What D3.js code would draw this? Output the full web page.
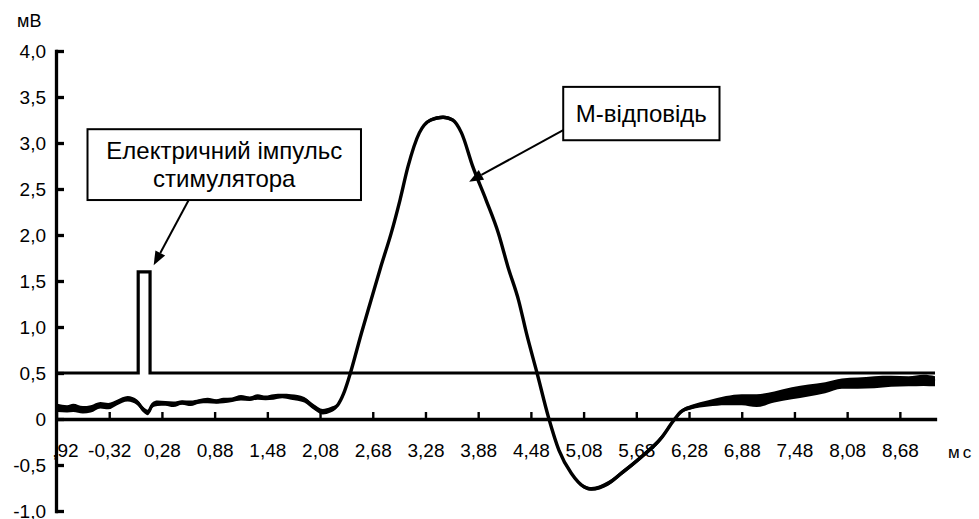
<!DOCTYPE html>
<html><head><meta charset="utf-8">
<script src="https://cdn.jsdelivr.net/npm/d3@7"></script>
<style>
body{margin:0;background:#fff}
svg{display:block}
text{font-family:"Liberation Sans",Arial,sans-serif;fill:#000}
.axis .domain{stroke:#000;stroke-width:3.3px;stroke-linecap:square}
.xaxis .tick line{stroke:#000;stroke-width:2.4px}
.yaxis .tick line{stroke:#000;stroke-width:3.3px}
.axis .tick text{font-size:19px;font-family:"Liberation Sans",Arial,sans-serif;fill:#000}
</style>
</head><body>
<svg id="chart" width="979" height="519"></svg>
<script>
// ---- data ----
const timeMs = [-0.91,-0.80,-0.73,-0.62,-0.53,-0.42,-0.33,-0.23,-0.11,0.00,0.07,0.12,0.17,0.23,0.32,0.41,0.51,0.61,0.70,0.80,0.90,0.98,1.08,1.18,1.28,1.37,1.46,1.55,1.65,1.75,1.90,2.01,2.11,2.20,2.28,2.35,2.41,2.55,2.66,2.77,2.89,2.99,3.08,3.21,3.34,3.48,3.59,3.69,3.82,3.97,4.11,4.22,4.34,4.43,4.55,4.68,4.80,4.94,5.09,5.17,5.36,5.51,5.74,5.97,6.11,6.19,6.31,6.50,6.70,6.88,7.05,7.25,7.45,7.64,7.83,8.02,8.20,8.39,8.58,8.78,8.95,9.08];
const responseMv = [0.12,0.11,0.12,0.10,0.11,0.15,0.14,0.18,0.22,0.18,0.10,0.07,0.15,0.17,0.17,0.16,0.18,0.17,0.19,0.20,0.19,0.20,0.21,0.23,0.22,0.24,0.23,0.24,0.25,0.24,0.21,0.13,0.08,0.10,0.15,0.28,0.45,0.93,1.29,1.65,2.02,2.38,2.74,3.11,3.25,3.28,3.25,3.11,2.74,2.38,2.02,1.65,1.29,0.93,0.50,0.02,-0.34,-0.59,-0.74,-0.76,-0.70,-0.59,-0.41,-0.20,-0.01,0.08,0.13,0.17,0.20,0.21,0.20,0.24,0.28,0.31,0.34,0.385,0.39,0.40,0.41,0.41,0.42,0.41];
const noiseMv = [0.045,0.04,0.045,0.04,0.04,0.035,0.035,0.03,0.03,0.03,0.03,0.03,0.03,0.03,0.025,0.03,0.025,0.03,0.025,0.03,0.025,0.03,0.025,0.03,0.025,0.03,0.025,0.03,0.025,0.03,0.03,0.03,0.03,0.03,0.02,0.01,0.01,0.01,0.01,0.01,0.01,0.01,0.01,0.015,0.02,0.02,0.02,0.015,0.01,0.01,0.01,0.01,0.01,0.01,0.01,0.01,0.01,0.015,0.02,0.02,0.025,0.025,0.025,0.025,0.02,0.02,0.025,0.035,0.05,0.06,0.07,0.06,0.065,0.065,0.06,0.055,0.06,0.065,0.06,0.055,0.06,0.055];

const stimTimeMs = [-0.92,0.01,0.01,0.145,0.145,9.08];
const stimMv = [0.5,0.5,1.6,1.6,0.5,0.5];

const xTickValues = [-0.92,-0.32,0.28,0.88,1.48,2.08,2.68,3.28,3.88,4.48,5.08,5.68,6.28,6.88,7.48,8.08,8.68];
const xTickLabels = ["-0,92","-0,32","0,28","0,88","1,48","2,08","2,68","3,28","3,88","4,48","5,08","5,68","6,28","6,88","7,48","8,08","8,68"];
const yTickValues = [4,3.5,3,2.5,2,1.5,1,0.5,0,-0.5,-1];
const yTickLabels = ["4,0","3,5","3,0","2,5","2,0","1,5","1,0","0,5","0","-0,5","-1,0"];

const annotations = [
  {lines:["Електричний імпульс","стимулятора"], box:[-0.567,2.546,3.15,2.38], from:[0.585,2.38], to:[0.186,1.67]},
  {lines:["М-відповідь"], box:[4.848,6.627,3.61,3.03], from:[4.848,3.14], to:[3.777,2.58]}
];

// ---- layout ----
const svg = d3.select("#chart");
const x = d3.scaleLinear().domain([-0.92, 9.08]).range([56.5, 935]);
const y = d3.scaleLinear().domain([-1, 4]).range([511, 51]);

// stimulus trace
const stimData = stimTimeMs.map((t,i)=>({t, v:stimMv[i]}));
svg.append("path").datum(stimData)
  .attr("d", d3.line().x(d=>x(d.t)).y(d=>y(d.v)))
  .style("fill","none").style("stroke","#000").style("stroke-width","3.2px")
  .style("stroke-linejoin","miter");

// response trace (noise band + line)
const resp = timeMs.map((t,i)=>({t, v:responseMv[i], n:noiseMv[i]}));
svg.append("path").datum(resp)
  .attr("d", d3.area().curve(d3.curveMonotoneX).x(d=>x(d.t)).y0(d=>y(d.v-d.n)).y1(d=>y(d.v+d.n)))
  .style("fill","#000");
svg.append("path").datum(resp)
  .attr("d", d3.line().curve(d3.curveMonotoneX).x(d=>x(d.t)).y(d=>y(d.v)))
  .style("fill","none").style("stroke","#000").style("stroke-width","3.4px");

// x axis at y = 0
const clip = svg.append("defs").append("clipPath").attr("id","xclip");
clip.append("rect").attr("x",53).attr("y",-20).attr("width",930).attr("height",80);
svg.append("g").attr("class","axis xaxis").attr("transform",`translate(0,${y(0)})`)
  .attr("clip-path","url(#xclip)")
  .call(d3.axisBottom(x).tickValues(xTickValues).tickFormat((d,i)=>xTickLabels[i])
    .tickSizeInner(-7).tickSizeOuter(0).tickPadding(25));

// y axis
svg.append("g").attr("class","axis yaxis").attr("transform",`translate(${x(-0.92)-0.5},0)`)
  .call(d3.axisLeft(y).tickValues(yTickValues).tickFormat((d,i)=>yTickLabels[i])
    .tickSizeInner(-8).tickSizeOuter(0).tickPadding(10));

// axis titles
svg.append("text").attr("x",17).attr("y",27).style("font-size","18px").text("мВ");
svg.append("text").attr("x",948).attr("y",458).style("font-size","17px").attr("letter-spacing",3).text("мс");

// annotations
annotations.forEach(a=>{
  const x0=x(a.box[0]), x1=x(a.box[1]), y0=y(a.box[2]), y1=y(a.box[3]);
  svg.append("rect").attr("x",x0).attr("y",y0).attr("width",x1-x0).attr("height",y1-y0)
    .style("fill","#fff").style("stroke","#000").style("stroke-width","2px");
  const cx=(x0+x1)/2, n=a.lines.length;
  const lh=28, midY=(y0+y1)/2;
  a.lines.forEach((s,i)=>{
    svg.append("text").attr("x",cx).attr("y",midY+(i-(n-1)/2)*lh+8.5)
      .attr("text-anchor","middle").style("font-size","24px").text(s);
  });
  const fx=x(a.from[0]), fy=y(a.from[1]), tx=x(a.to[0]), ty=y(a.to[1]);
  const dx=tx-fx, dy=ty-fy, L=Math.hypot(dx,dy), ux=dx/L, uy=dy/L;
  const hl=14, hw=5.5;
  const bx=tx-ux*hl, by=ty-uy*hl;
  svg.append("line").attr("x1",fx).attr("y1",fy).attr("x2",bx).attr("y2",by)
    .style("stroke","#000").style("stroke-width","2px");
  svg.append("path").attr("d",`M${tx},${ty}L${bx-uy*hw},${by+ux*hw}L${bx+uy*hw},${by-ux*hw}Z`).style("fill","#000");
});
</script>
</body></html>
